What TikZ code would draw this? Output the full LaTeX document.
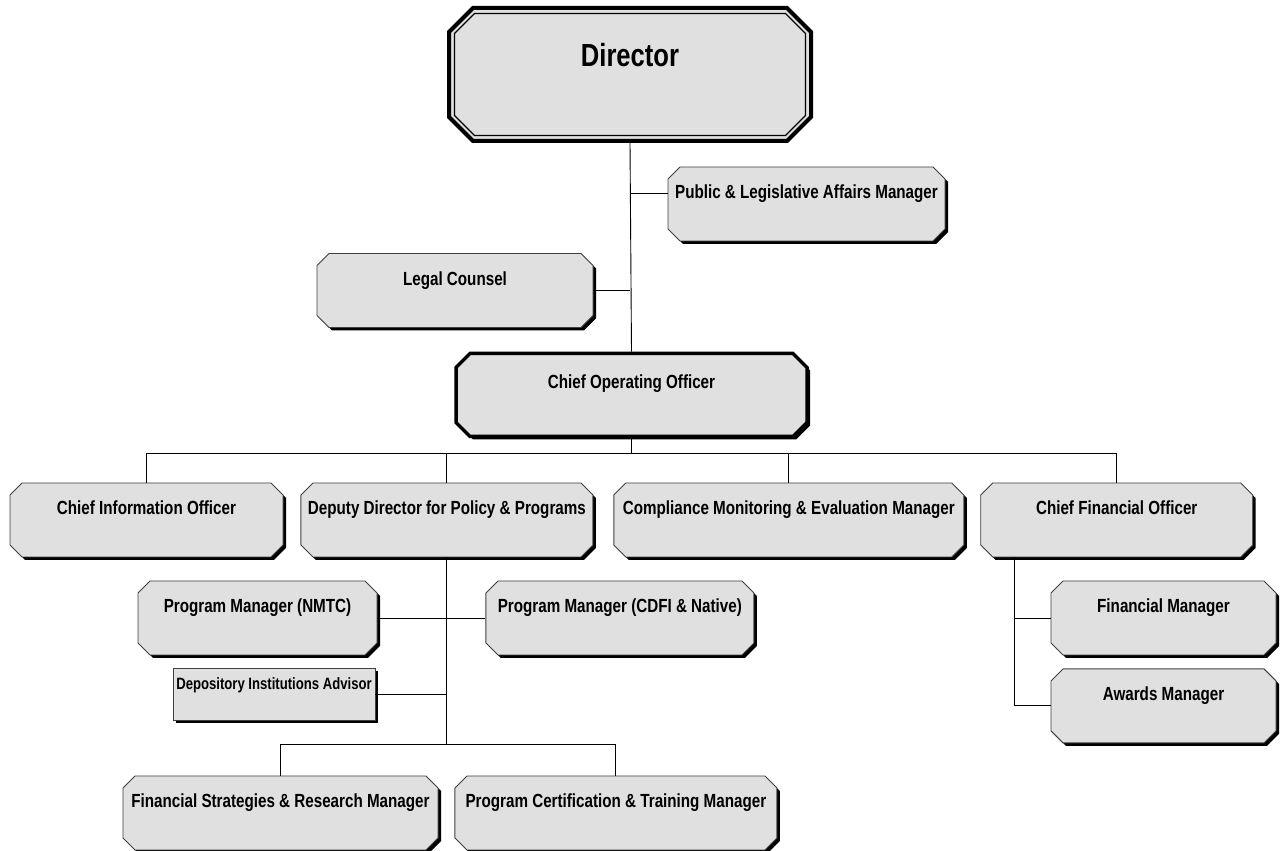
\documentclass[tikz,border=0pt]{standalone}
\usepackage{fontspec}
\setmainfont{Liberation Sans}[FakeStretch=0.8]
\usetikzlibrary{positioning,shapes.misc,shadows}

\tikzset{
  boxbase/.style={chamfered rectangle, chamfered rectangle xsep=6pt, chamfered rectangle ysep=6pt,
    inner sep=-6pt, draw=black!75, line width=0.9pt, fill=black!12,
    minimum height=74pt, text height=32pt, text depth=42pt,
    font=\fontsize{19}{22}\selectfont\bfseries},
  office/.style={boxbase, drop shadow={shadow xshift=3pt, shadow yshift=-3pt, fill=black, opacity=1}},
  headbox/.style={boxbase, chamfered rectangle xsep=12pt, chamfered rectangle ysep=12pt, inner sep=-12pt,
    minimum width=362pt, minimum height=133pt, text height=58.5pt, text depth=74.5pt,
    font=\fontsize{32}{36}\selectfont\bfseries},
  link/.style={line width=0.9pt},
}

\begin{document}
\begin{tikzpicture}[x=1pt, y=1pt, node distance=17pt]
\useasboundingbox (0,0) rectangle (1280,851);

\node [headbox, draw=black, line width=4pt] at (630,776.5) (director) {Director};
\node [headbox, fill=none, draw=black, line width=1.2pt, chamfered rectangle xsep=10pt, chamfered rectangle ysep=10pt,
  inner sep=-10pt, minimum width=351pt, minimum height=122pt, text height=53pt, text depth=69pt] at (director) (directorrim) {\phantom{Director}};

\node [office, minimum width=277pt] at (806.5,647) (public) {Public \& Legislative Affairs Manager};
\node [office, minimum width=276pt] at (455,560.5) (legal) {Legal Counsel};
\node [office, draw=black, line width=3.5pt, minimum width=351pt, minimum height=83pt,
  chamfered rectangle xsep=7pt, chamfered rectangle ysep=7pt, inner sep=-7pt,
  text height=35.5pt, text depth=47.5pt,
  drop shadow={shadow xshift=2pt, shadow yshift=-2pt, fill=black, opacity=1}] at (631.5,456) (coo) {Chief Operating Officer};

\node [office, minimum width=273pt] at (146.5,331) (cio) {Chief Information Officer};
\node [office, minimum width=292pt, right=of cio] (deputy) {Deputy Director for Policy \& Programs};
\node [office, minimum width=350pt, right=20pt of deputy] (compliance) {Compliance Monitoring \& Evaluation Manager};
\node [office, minimum width=272pt, right=16pt of compliance] (cfo) {Chief Financial Officer};

\node [office, minimum width=239pt] at (257.5,233) (nmtc) {Program Manager (NMTC)};
\node [office, minimum width=268pt, right=108pt of nmtc] (cdfi) {Program Manager (CDFI \& Native)};
\node [rectangle, draw=black!75, line width=0.9pt, fill=black!12, inner sep=0pt,
  drop shadow={shadow xshift=3pt, shadow yshift=-3pt, fill=black, opacity=1},
  minimum width=202pt, minimum height=52pt, text height=16pt, text depth=24pt,
  font=\fontsize{16.4}{18}\selectfont\bfseries] at (274,157) (advisor) {Depository Institutions Advisor};

\node [office, minimum width=315pt] at (280.5,38) (strategies) {Financial Strategies \& Research Manager};
\node [office, minimum width=322pt, right=16pt of strategies] (certification) {Program Certification \& Training Manager};

\node [office, minimum width=225pt] at (1163.5,233) (finmgr) {Financial Manager};
\node [office, minimum width=225pt, below=13pt of finmgr] (awards) {Awards Manager};

\draw [link] (director.south) -- (coo.north);
\draw [link] ([yshift=11pt]public.west) -- ([yshift=11pt]public.west -| director.south);
\draw [link] (legal.east) -- (legal.east -| director.south);

\path (coo.south) ++(0,-15) coordinate (bus);
\draw [link] (coo.south) -- (bus);
\draw [link] (bus -| cio.north) -- (bus -| cfo.north);
\foreach \n in {cio,deputy,compliance,cfo}
  \draw [link] (\n.north) -- (bus -| \n.north);

\path (strategies.north) ++(0,31) coordinate (lowbus);
\draw [link] (deputy.south) -- (deputy.south |- lowbus);
\draw [link] (strategies.north) -- (lowbus) -| (certification.north);
\draw [link] (nmtc.east) -- (cdfi.west);
\draw [link] (advisor.east) -- (advisor.east -| deputy.south);

\path (cfo.south) ++(-102,0) coordinate (cfotrunk);
\draw [link] (cfotrunk) |- (finmgr.west);
\draw [link] (cfotrunk) |- (awards.west);
\end{tikzpicture}
\end{document}
